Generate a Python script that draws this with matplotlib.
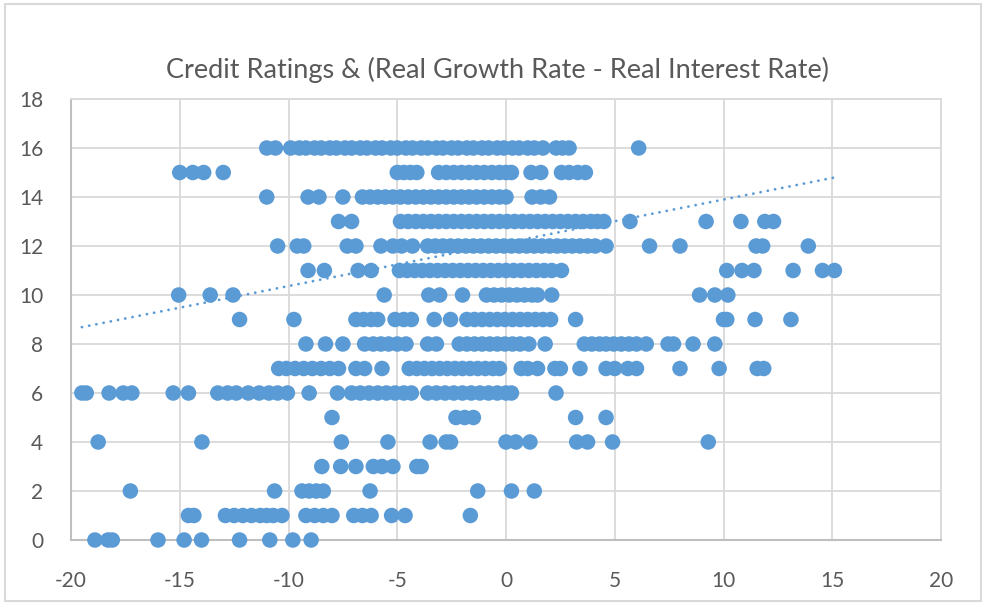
import matplotlib
matplotlib.use("Agg")
import matplotlib.pyplot as plt
from matplotlib.patches import Rectangle
import numpy as np

plt.rcParams['font.family'] = ['Lato', 'DejaVu Sans']
plt.rcParams['axes.unicode_minus'] = False

# growth - interest differential for each credit rating row
rating_16 = [-11.0, -10.6, -9.9, -9.5, -9.2, -8.8, -8.5, -8.1, -7.8, -7.4, -7.1, -6.7, -6.4,
             -6.0, -5.7, -5.3, -5.0, -4.6, -4.3, -3.9, -3.6, -3.2, -2.9, -2.5, -2.2, -1.8,
             -1.5, -1.1, -0.8, -0.4, -0.1, 0.3, 0.6, 1.0, 1.3, 1.7, 2.3, 2.6, 2.9, 6.1]
rating_15 = [-15.0, -14.4, -13.9, -13.0, -5.0, -4.7, -4.4, -4.1, -3.1, -2.75, -2.4, -2.05,
             -1.7, -1.35, -1.0, -0.65, -0.3, 0.0, 0.25, 1.15, 1.6, 2.55, 2.9, 3.3, 3.65]
rating_14 = [-11.0, -9.1, -8.6, -7.5, -6.6, -6.25, -5.9, -5.55, -5.2, -4.85, -4.5, -4.15,
             -3.8, -3.45, -3.1, -2.75, -2.4, -2.05, -1.7, -1.35, -1.0, -0.65, -0.3, 0.0,
             1.2, 1.6, 2.0]
rating_13 = [-7.7, -7.1, -4.85, -4.5, -4.15, -3.8, -3.45, -3.1, -2.75, -2.4, -2.05, -1.7,
             -1.35, -1.0, -0.65, -0.3, 0.05, 0.4, 0.75, 1.1, 1.45, 1.8, 2.15, 2.5, 2.85,
             3.2, 3.55, 3.9, 4.2, 4.5, 5.7, 9.2, 10.8, 11.9, 12.3]
rating_12 = [-10.5, -9.6, -9.3, -7.3, -6.9, -5.75, -5.2, -4.8, -4.3, -3.6, -3.25, -2.9,
             -2.55, -2.2, -1.85, -1.5, -1.15, -0.8, -0.45, -0.1, 0.25, 0.6, 0.95, 1.3,
             1.65, 2.0, 2.35, 2.7, 3.05, 3.4, 3.75, 4.1, 4.6, 6.6, 8.0, 11.5, 11.8, 13.9]
rating_11 = [-9.1, -8.35, -6.8, -6.2, -4.9, -4.55, -4.2, -3.85, -3.5, -3.15, -2.8, -2.45,
             -2.1, -1.75, -1.4, -1.05, -0.7, -0.35, 0.0, 0.35, 0.7, 1.05, 1.4, 1.75, 2.1,
             2.55, 10.15, 10.85, 11.4, 13.2, 14.55, 15.1]
rating_10 = [-15.05, -13.6, -12.55, -5.6, -3.55, -3.05, -2.0, -0.9, -0.55, -0.2, 0.15, 0.5,
             0.85, 1.2, 1.45, 2.1, 8.9, 9.6, 10.2]
rating_9 = [-12.25, -9.75, -6.9, -6.55, -6.2, -5.9, -5.1, -4.7, -4.35, -3.3, -2.55, -1.8,
            -1.45, -1.1, -0.75, -0.4, -0.05, 0.3, 0.65, 1.0, 1.35, 1.7, 2.05, 3.2, 10.0,
            10.15, 11.45, 13.1]
rating_8 = [-9.2, -8.3, -7.5, -6.5, -6.1, -5.75, -5.4, -5.0, -4.6, -3.6, -3.2, -2.15, -1.8,
            -1.45, -1.1, -0.75, -0.4, -0.05, 0.3, 0.65, 1.05, 1.8, 3.6, 3.95, 4.3, 4.6,
            4.95, 5.3, 5.65, 6.0, 6.45, 7.45, 7.7, 8.6, 9.6]
rating_7 = [-10.45, -10.1, -9.7, -9.3, -8.9, -8.5, -8.1, -7.7, -6.9, -6.5, -5.7, -4.45,
            -4.1, -3.75, -3.4, -3.05, -2.7, -2.35, -2.0, -1.65, -1.3, -0.95, -0.6, -0.3,
            0.7, 1.0, 1.45, 2.25, 2.5, 3.4, 4.6, 5.0, 5.6, 6.0, 8.0, 9.8, 11.55, 11.85]
rating_6 = [-19.5, -19.3, -18.25, -17.6, -17.2, -15.3, -14.6, -13.25, -12.8, -12.4, -11.85,
            -11.35, -10.9, -10.5, -10.05, -9.05, -7.75, -7.1, -6.7, -6.3, -5.9, -5.5, -5.1,
            -4.7, -4.35, -3.6, -3.2, -2.8, -2.4, -2.0, -1.6, -1.2, -0.8, -0.4, 0.0, 0.25, 2.3]
rating_5 = [-8.0, -2.3, -1.9, -1.5, 3.2, 4.6]
rating_4 = [-18.75, -13.98, -7.57, -5.43, -3.49, -2.75, -2.55, 0.0, 0.45, 1.1, 3.25, 3.75,
            4.9, 9.3]
rating_3 = [-8.47, -7.6, -6.9, -6.1, -5.7, -5.2, -4.1, -3.9]
rating_2 = [-17.27, -10.64, -9.38, -9.05, -8.72, -8.4, -6.25, -1.3, 0.25, 1.3]
rating_1 = [-14.6, -14.35, -12.9, -12.5, -12.1, -11.7, -11.3, -11.0, -10.7, -10.3, -9.2,
            -8.8, -8.4, -8.0, -7.0, -6.6, -6.2, -5.26, -4.64, -1.64]
rating_0 = [-18.9, -18.3, -18.1, -16.0, -14.8, -14.0, -12.25, -10.86, -9.8, -8.96]

ratings = [16, 15, 14, 13, 12, 11, 10, 9, 8, 7, 6, 5, 4, 3, 2, 1, 0]
rows = [rating_16, rating_15, rating_14, rating_13, rating_12, rating_11, rating_10,
        rating_9, rating_8, rating_7, rating_6, rating_5, rating_4, rating_3, rating_2,
        rating_1, rating_0]

# linear trendline as shown on the chart
trend_slope = 0.1765
trend_intercept = 12.13

x_ticks = [-20, -15, -10, -5, 0, 5, 10, 15, 20]
y_ticks = [0, 2, 4, 6, 8, 10, 12, 14, 16, 18]

blue = '#5B9BD5'
grey_text = '#595959'
grid_col = '#D9D9D9'

xs = np.concatenate([np.array(r, dtype=float) for r in rows])
ys = np.concatenate([np.full(len(r), v, dtype=float) for r, v in zip(rows, ratings)])

fig = plt.figure(figsize=(9.85, 6.05), dpi=100)
ax = fig.add_axes([71 / 985, 65 / 605, 870 / 985, 441 / 605])

ax.scatter(xs, ys, s=125, color=blue, edgecolors='none', zorder=3, clip_on=False)

tx = np.array([xs.min(), xs.max()])
ax.plot(tx, trend_slope * tx + trend_intercept, color=blue, linewidth=2.0,
        linestyle=(0, (0.05, 2.6)), dash_capstyle='round', zorder=4)

ax.set_xlim(-20, 20)
ax.set_ylim(0, 18)
ax.set_xticks(x_ticks)
ax.set_yticks(y_ticks)
ax.grid(True, color=grid_col, linewidth=1.3, zorder=0)
ax.set_axisbelow(True)
for side in ['top', 'right']:
    ax.spines[side].set_color(grid_col)
    ax.spines[side].set_linewidth(1.3)
for side in ['left', 'bottom']:
    ax.spines[side].set_color('#BFBFBF')
    ax.spines[side].set_linewidth(1.5)
ax.tick_params(length=0, labelsize=15, labelcolor=grey_text)
ax.tick_params(axis='x', pad=22)
ax.tick_params(axis='y', pad=20)

fig.text(497 / 985, 1 - 70 / 605, 'Credit Ratings & (Real Growth Rate - Real Interest Rate)',
         ha='center', va='center', fontsize=19.5, color=grey_text)

fig.patches.append(Rectangle((5 / 985, 4 / 605), 976 / 985, 597 / 605, transform=fig.transFigure,
                             fill=False, edgecolor=grid_col, linewidth=1.5))

fig.savefig('out.png', dpi=100, facecolor='white')
